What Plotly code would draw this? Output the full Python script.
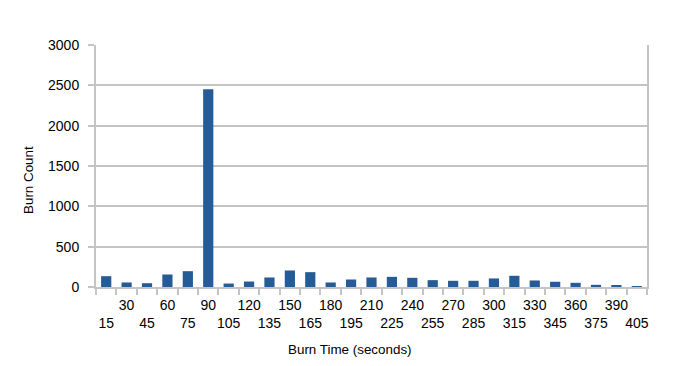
import plotly.graph_objects as go

burn_time = [15, 30, 45, 60, 75, 90, 105, 120, 135, 150, 165, 180, 195, 210,
             225, 240, 255, 270, 285, 300, 315, 330, 345, 360, 375, 390, 405]
burn_count = [134, 56, 47, 155, 196, 2450, 43, 68, 118, 205, 184, 56, 93, 118,
              126, 114, 85, 77, 77, 106, 139, 81, 65, 52, 27, 18, 12]
y_ticks = [0, 500, 1000, 1500, 2000, 2500, 3000]

cats = [str(t) for t in burn_time]
tick_text = [("<br>" + c) if i % 2 == 0 else c for i, c in enumerate(cats)]

# page body has an 8px margin; keep the document from overflowing the window
OFF = 8
W, H = 678 - OFF, 366 - 2 * OFF
PLOT_L, PLOT_R, PLOT_T, PLOT_B = 96, 647, 45, 287   # page coords
L, T = PLOT_L - OFF, PLOT_T - OFF
R = (OFF + W) - PLOT_R
B = (OFF + H) - PLOT_B
grey = "#c4c4c4"
font = "Liberation Sans, Arial, sans-serif"

fig = go.Figure(go.Bar(x=cats, y=burn_count, marker_color="#255b97",
                       marker_line_width=0))

fig.update_layout(
    width=W, height=H,
    margin=dict(l=L, r=R, t=T, b=B),
    plot_bgcolor="white", paper_bgcolor="white",
    bargap=0.5, showlegend=False,
    font=dict(family=font, size=14, color="#000000"),
)
fig.update_xaxes(type="category", tickmode="array", tickvals=cats, ticktext=tick_text,
                 tickson="boundaries", ticks="outside", ticklen=6, tickwidth=1.5,
                 tickcolor=grey, showline=True, linecolor=grey, linewidth=2,
                 showgrid=False, tickangle=0, tickfont=dict(size=14),
                 ticklabelstandoff=4)
fig.update_yaxes(range=[0, 3000], tickvals=y_ticks, ticks="outside", ticklen=6,
                 tickwidth=1.5, tickcolor=grey, showline=True, mirror=True,
                 linecolor=grey, linewidth=2, showgrid=True, gridcolor=grey,
                 gridwidth=1.5, zeroline=False, tickfont=dict(size=14),
                 ticklabelstandoff=6)

pw = W - L - R
ph = H - T - B


def px(xp):
    return (xp - OFF - L) / pw


def py(yp):
    return (H - B - (yp - OFF)) / ph


fig.add_annotation(text="Burn Count", textangle=-90, xref="paper", yref="paper",
                   x=px(28), y=py(180), showarrow=False,
                   xanchor="center", yanchor="middle", font=dict(size=13.4))
fig.add_annotation(text="Burn Time (seconds)", xref="paper", yref="paper",
                   x=px(350), y=py(349), showarrow=False,
                   xanchor="center", yanchor="middle", font=dict(size=13.4))
fig.add_shape(type="line", xref="paper", yref="paper",
              x0=px(676), x1=px(676), y0=py(9), y1=py(346),
              line=dict(color="#a8a8a8", width=1.5, dash="dot"))

fig.write_html("out.html")
